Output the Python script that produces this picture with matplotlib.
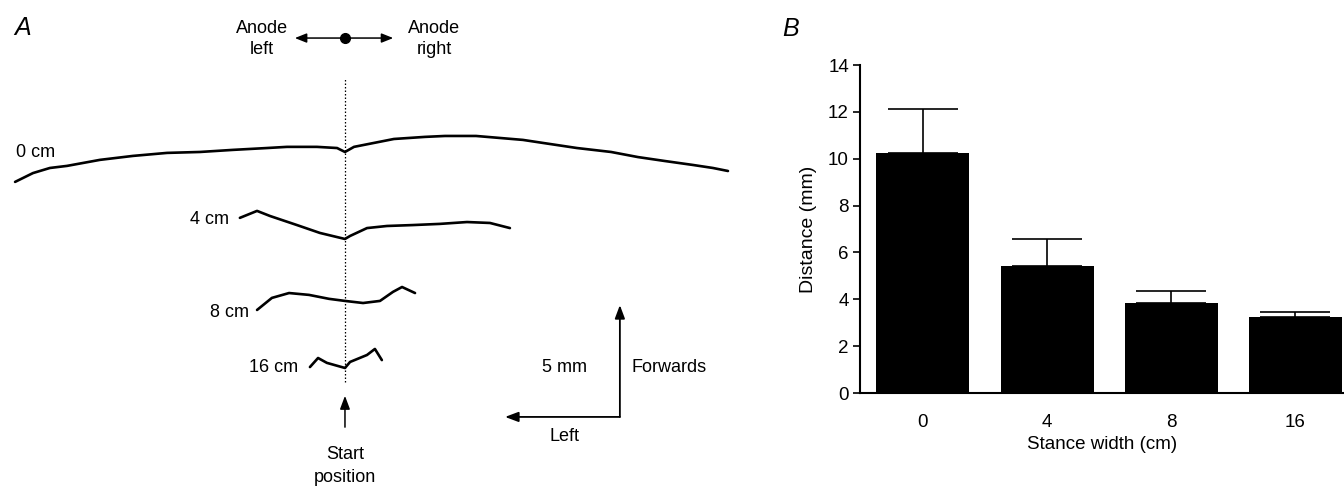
import matplotlib
matplotlib.use("Agg")
import matplotlib.pyplot as plt

plt.rcParams['font.family'] = ['Liberation Sans', 'DejaVu Sans']

# Panel A: sway trajectories (mm, relative to start position; +y = forwards)
stance_labels = ["0 cm", "4 cm", "8 cm", "16 cm"]

traj_0_x = [-14.22, -13.45, -12.72, -11.98, -10.56, -9.14, -7.67, -6.25, -4.83, -3.36,
            -2.50, -1.21, -0.34, 0.0, 0.39, 1.25, 2.11, 3.45, 4.31, 5.65, 7.67, 8.53,
            10.00, 11.47, 12.63, 13.79, 15.00, 15.86, 16.51]
traj_0_y = [-1.29, -0.91, -0.69, -0.60, -0.34, -0.17, -0.04, 0.0, 0.09, 0.17,
            0.22, 0.22, 0.17, 0.0, 0.22, 0.39, 0.56, 0.65, 0.69, 0.69, 0.52, 0.39,
            0.17, 0.0, -0.22, -0.39, -0.56, -0.69, -0.82]

traj_4_x = [-4.53, -3.79, -3.23, -2.07, -1.08, 0.0, 0.22, 0.95, 1.81, 2.93, 4.09, 5.26, 6.25, 7.11]
traj_4_y = [0.91, 1.21, 0.99, 0.60, 0.26, 0.0, 0.13, 0.47, 0.56, 0.60, 0.65, 0.73, 0.69, 0.47]

traj_8_x = [-3.79, -3.15, -2.41, -1.55, -0.69, 0.0, 0.78, 1.51, 2.07, 2.46, 3.02]
traj_8_y = [-0.39, 0.13, 0.34, 0.26, 0.09, 0.0, -0.09, 0.0, 0.39, 0.60, 0.34]

traj_16_x = [-1.51, -1.16, -0.78, 0.0, 0.22, 0.95, 1.29, 1.59]
traj_16_y = [0.04, 0.43, 0.22, 0.0, 0.26, 0.56, 0.82, 0.34]

# Panel B: mean distance with upper error
stance_widths = ["0", "4", "8", "16"]
distance_mean = [10.25, 5.43, 3.84, 3.24]
distance_err = [1.88, 1.15, 0.51, 0.20]

fig = plt.figure(figsize=(13.44, 4.87), dpi=100)

# ---- panel A ----
axA = fig.add_axes([0, 0, 760 / 1344, 1])
axA.set_xlim(-14.87, 17.89)
axA.set_ylim(0, 20.99)
axA.axis("off")

trajs = [(traj_0_x, traj_0_y), (traj_4_x, traj_4_y), (traj_8_x, traj_8_y), (traj_16_x, traj_16_y)]
offsets = [14.44, 10.69, 8.02, 5.13]
label_pos = [(-13.32, 14.40), (-5.82, 11.55), (-4.96, 7.54), (-3.06, 5.13)]

for (tx, ty), off, lab, (lx, ly) in zip(trajs, offsets, stance_labels, label_pos):
    axA.plot(tx, [v + off for v in ty], color="black", lw=1.9,
             solid_capstyle="round", solid_joinstyle="round")
    axA.text(lx, ly, lab, ha="center", va="center", fontsize=13)

axA.plot([0, 0], [4.53, 17.63], color="black", lw=0.9, ls=(0, (1.2, 1.6)))

# anode direction
arrow_kw = dict(arrowstyle="-|>,head_length=0.7,head_width=0.28", color="black", lw=1.1)
axA.annotate("", xy=(-2.28, 19.35), xytext=(0, 19.35), arrowprops=arrow_kw)
axA.annotate("", xy=(2.2, 19.35), xytext=(0, 19.35), arrowprops=arrow_kw)
axA.plot([0], [19.35], "o", color="black", ms=7)
axA.text(-3.58, 19.31, "Anode\nleft", ha="center", va="center", fontsize=13, linespacing=1.35)
axA.text(3.84, 19.31, "Anode\nright", ha="center", va="center", fontsize=13, linespacing=1.35)

# start position arrow
axA.annotate("", xy=(0, 4.05), xytext=(0, 2.46),
             arrowprops=dict(arrowstyle="-|>,head_length=0.8,head_width=0.3", color="black", lw=1.1))
axA.text(0, 0.92, "Start\nposition", ha="center", va="center", fontsize=13, linespacing=1.45)

# scale bar
bar_kw = dict(arrowstyle="-|>,head_length=0.8,head_width=0.3", color="black", lw=1.3,
              shrinkA=0, shrinkB=0)
axA.annotate("", xy=(6.9, 3.02), xytext=(11.85, 3.02), arrowprops=bar_kw)
axA.annotate("", xy=(11.85, 7.84), xytext=(11.85, 3.02), arrowprops=bar_kw)
axA.text(9.48, 5.17, "5 mm", ha="center", va="center", fontsize=13)
axA.text(13.97, 5.17, "Forwards", ha="center", va="center", fontsize=13)
axA.text(9.48, 2.16, "Left", ha="center", va="center", fontsize=13)

fig.text(23 / 1344, 1 - 28 / 487, "A", fontsize=18, style="italic", ha="center", va="center")
fig.text(791 / 1344, 1 - 29 / 487, "B", fontsize=18, style="italic", ha="center", va="center")

# ---- panel B ----
axB = fig.add_axes([860 / 1344, 1 - 393 / 487, 484 / 1344, 328 / 487])
xpos = list(range(len(stance_widths)))
axB.bar(xpos, distance_mean, width=0.75, color="black", zorder=2)
axB.errorbar(xpos, distance_mean, yerr=[[0] * 4, distance_err], fmt="none",
             ecolor="black", elinewidth=1.2, capsize=25, capthick=1.2, zorder=1)
axB.set_xlim(-0.508, 3.395)
axB.set_ylim(0, 14)
axB.set_yticks(range(0, 15, 2))
axB.set_xticks(xpos)
axB.set_xticklabels(stance_widths)
axB.spines["top"].set_visible(False)
axB.spines["right"].set_visible(False)
axB.spines["left"].set_linewidth(1.5)
axB.spines["bottom"].set_linewidth(1.5)
axB.tick_params(axis="y", length=5, width=1.2, labelsize=13.5, pad=3)
axB.tick_params(axis="x", length=0, labelsize=13.5, pad=15)
axB.set_xlabel("Stance width (cm)", fontsize=13.5, labelpad=4)
axB.set_ylabel("Distance (mm)", fontsize=14, labelpad=8)

fig.savefig("out.png", dpi=100)
